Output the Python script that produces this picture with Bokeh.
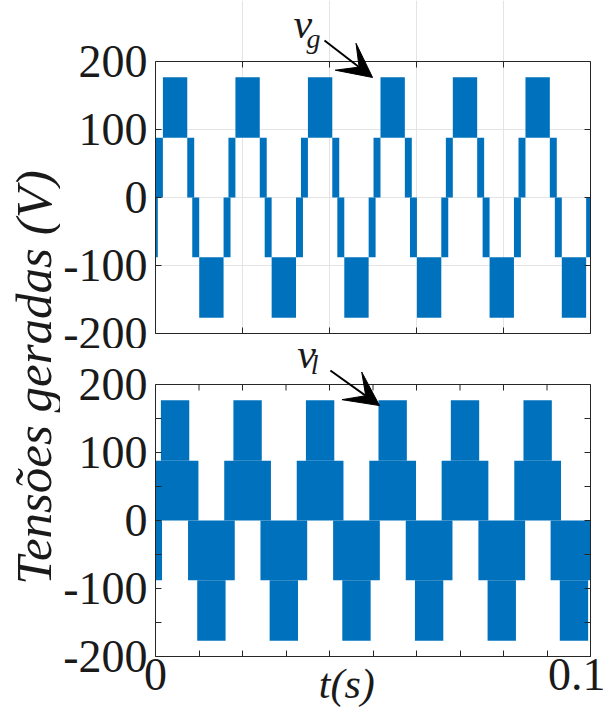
import math
from bokeh.plotting import figure
from bokeh.layouts import row, column
from bokeh.models import (FixedTicker, LinearAxis, Range1d, Label, Arrow, VeeHead, Span,
                          CustomJSTickFormatter)
from bokeh.embed import file_html
from bokeh.resources import INLINE

# ---------------- data ----------------
# centres (s) of the positive and negative half-cycles of the 60 Hz waveforms
pos_half_centres = [0.00450, 0.02117, 0.03784, 0.05452, 0.07115, 0.08785]
neg_half_centres = [-0.00387, 0.01285, 0.02950, 0.04620, 0.06290, 0.07960, 0.09620]
level_low = 88.0      # V, first voltage level
level_high = 177.0    # V, second voltage level
# v_g : half widths (s) of the switching envelope and of the upper block
vg_outer_half = 0.0044
vg_inner_half = 0.0028
# v_l : half widths (s)
vl_outer_half = 0.00537
vl_inner_half = 0.00326

top_x_ticks = [0.0, 0.02, 0.04, 0.06, 0.08, 0.1]
top_y_ticks = [-200, -100, 0, 100, 200]
top_y_labels = ["-200", "-100", "0", "100", "200"]
bot_x_ticks = [0.0, 0.01, 0.02, 0.03, 0.04, 0.05, 0.06, 0.07, 0.08, 0.09, 0.1]
bot_x_labels = ["0", "", "", "", "", "", "", "", "", "", "0.1"]
bot_y_ticks = [-200, -150, -100, -50, 0, 50, 100, 150, 200]
bot_y_labels = ["-200", "", "-100", "", "0", "", "100", "", "200"]
x_title = "t(s)" + "\u00a0" * 5
y_title = "Tensões geradas (V)"

BLUE = "#0072BD"
INK = "#262626"
TEXT = "#1a1a1a"
SERIF = "Liberation Serif"
TICK_FONT = "46px"
PX_PER_V = 0.68                 # vertical scale of both panels (px per volt)
TICK_LEN = 6                    # px
Y_MIN, Y_MAX = -200, 200        # axis box limits


def add_rect(store, l, r, a, b):
    store["left"].append(l)
    store["right"].append(r)
    store["bottom"].append(min(a, b))
    store["top"].append(max(a, b))


def vg_rects():
    d = {"left": [], "right": [], "bottom": [], "top": []}
    for sign, centres in ((1, pos_half_centres), (-1, neg_half_centres)):
        for c in centres:
            add_rect(d, c - vg_outer_half, c - vg_inner_half, 0, sign * level_low)
            add_rect(d, c + vg_inner_half, c + vg_outer_half, 0, sign * level_low)
            add_rect(d, c - vg_inner_half, c + vg_inner_half, sign * level_low, sign * level_high)
    return d


def vl_rects():
    d = {"left": [], "right": [], "bottom": [], "top": []}
    for sign, centres in ((1, pos_half_centres), (-1, neg_half_centres)):
        for c in centres:
            add_rect(d, c - vl_outer_half, c + vl_outer_half, 0, sign * level_low)
            add_rect(d, c - vl_inner_half, c + vl_inner_half, sign * level_low, sign * level_high)
    return d


def style_axis(ax, ticks, labels=None, bounded=False):
    ax.ticker = FixedTicker(ticks=ticks)
    ax.axis_line_color = INK
    ax.axis_line_width = 1
    ax.major_tick_line_color = INK
    ax.major_tick_in = TICK_LEN
    ax.major_tick_out = 0
    ax.minor_tick_line_color = None
    if bounded:
        ax.bounds = (Y_MIN, Y_MAX)
    if labels is None:
        ax.formatter = CustomJSTickFormatter(code="return ''")
        ax.major_label_text_font_size = "1px"
        ax.major_label_standoff = 0
    else:
        ax.major_label_overrides = {t: s for t, s in zip(ticks, labels)}
        ax.major_label_text_font = SERIF
        ax.major_label_text_font_size = TICK_FONT
        ax.major_label_text_color = TEXT
        ax.major_label_standoff = 8


def panel(extra_top_px, frame_h, border_bottom, xt, yt, x_labels, y_labels, grid):
    # the frame reaches above the axis box so that annotations can live there
    y_top = Y_MAX + extra_top_px / PX_PER_V
    p = figure(frame_width=435, frame_height=frame_h,
               x_range=Range1d(0, 0.1), y_range=Range1d(Y_MIN, y_top),
               output_backend="svg", toolbar_location=None,
               min_border_left=93, min_border_right=15,
               min_border_top=0, min_border_bottom=border_bottom)
    p.outline_line_color = None
    p.background_fill_color = "white"
    p.border_fill_color = "white"
    style_axis(p.xaxis[0], xt, x_labels)
    style_axis(p.yaxis[0], yt, y_labels, bounded=True)
    right_ax = LinearAxis()
    style_axis(right_ax, yt, None, bounded=True)
    p.add_layout(right_ax, "right")
    # upper edge of the axis box with inward ticks
    p.add_layout(Span(location=Y_MAX, dimension="width", line_color=INK, line_width=1))
    p.segment(x0=xt, y0=[Y_MAX] * len(xt), x1=xt, y1=[Y_MAX - TICK_LEN / PX_PER_V] * len(xt),
              line_color=INK, line_width=1)
    if grid:
        p.xgrid.ticker = FixedTicker(ticks=xt)
        p.ygrid.ticker = FixedTicker(ticks=yt)
        p.xgrid.bounds = (Y_MIN, Y_MAX)
        p.grid.grid_line_color = "#e4e4e4"
        p.grid.grid_line_width = 1
    else:
        p.grid.grid_line_color = None
    return p


def italic_label(x, y, text, size):
    return Label(x=x, y=y, text=text, text_font=SERIF, text_font_style="italic",
                 text_font_size=size, text_color=TEXT, text_align="left",
                 text_baseline="middle")


# ---------------- top panel : v_g ----------------
top = panel(61, 333, 15, top_x_ticks, top_y_ticks, None, top_y_labels, True)
r = vg_rects()
top.quad(left=r["left"], right=r["right"], bottom=r["bottom"], top=r["top"],
         fill_color=BLUE, line_color=None)
top.add_layout(italic_label(0.0317, 255.5, "v", "42px"))
top.add_layout(italic_label(0.0347, 233.5, "g", "28px"))
top.add_layout(Arrow(x_start=0.03885, y_start=231, x_end=0.0499, y_end=176.5,
                     line_color="black", line_width=2,
                     end=VeeHead(size=34, fill_color="black", line_color="black")))

# ---------------- bottom panel : v_l ----------------
bot = panel(36, 308, 68, bot_x_ticks, bot_y_ticks, bot_x_labels, bot_y_labels, False)
r = vl_rects()
bot.quad(left=r["left"], right=r["right"], bottom=r["bottom"], top=r["top"],
         fill_color=BLUE, line_color=None)
bot.add_layout(italic_label(0.0326, 244.4, "v", "42px"))
bot.add_layout(italic_label(0.0357, 230, "l", "28px"))
bot.add_layout(Arrow(x_start=0.0402, y_start=220.6, x_end=0.0515, y_end=169,
                     line_color="black", line_width=2,
                     end=VeeHead(size=34, fill_color="black", line_color="black")))
xa = bot.xaxis[0]
xa.major_label_standoff = 2
xa.axis_label = x_title
xa.axis_label_text_font = SERIF
xa.axis_label_text_font_style = "italic"
xa.axis_label_text_font_size = "42px"
xa.axis_label_text_color = TEXT
xa.axis_label_standoff = -32

# ---------------- shared y label ----------------
ylab = figure(width=60, height=724, x_range=Range1d(0, 60), y_range=Range1d(0, 724),
              output_backend="svg", toolbar_location=None, min_border=0,
              x_axis_type=None, y_axis_type=None)
ylab.outline_line_color = None
ylab.grid.grid_line_color = None
ylab.add_layout(Label(x=33, y=347, text=y_title, angle=math.pi / 2,
                      text_font=SERIF, text_font_style="italic", text_font_size="51px",
                      text_color=TEXT, text_align="center", text_baseline="middle"))

layout = row(ylab, column(top, bot))

with open("out.html", "w") as f:
    f.write(file_html(layout, INLINE))
